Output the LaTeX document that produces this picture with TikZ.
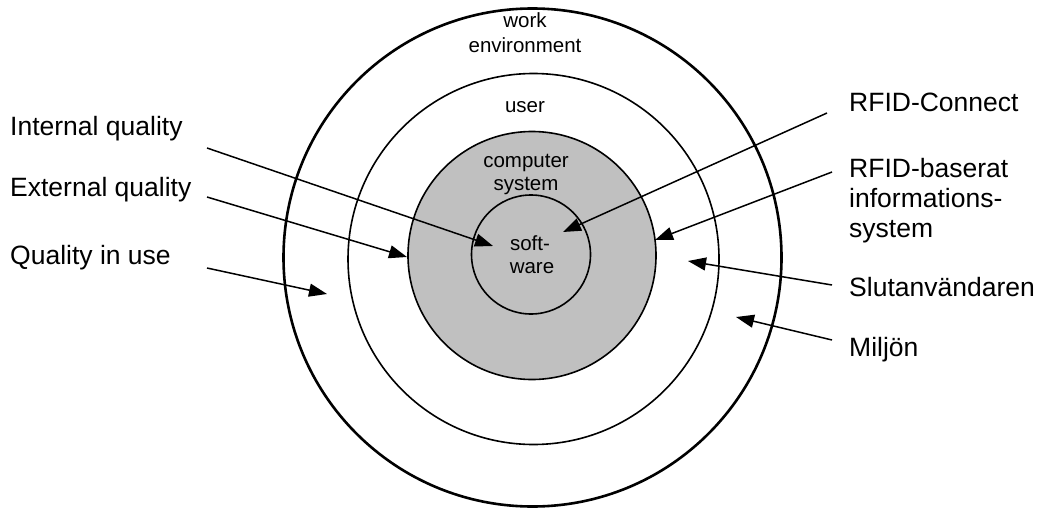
\documentclass[tikz,border=0pt]{standalone}
\usepackage{fontspec}
\setmainfont{Liberation Sans}
\usetikzlibrary{arrows.meta}
\definecolor{coreshade}{RGB}{192,192,192}

\begin{document}
\begin{tikzpicture}[x=1pt,y=-1pt,
  ring/.style={circle, draw, line width=1.6pt, inner sep=0pt},
  ptr/.style={line width=1.5pt, -{Triangle[length=18pt,width=13pt]}},
  biglabel/.style={font=\fontsize{26.5}{30.5}\selectfont, anchor=base west, inner sep=0pt},
  ringlabel/.style={font=\fontsize{20.5}{25}\selectfont, anchor=base, inner sep=0pt}]
\useasboundingbox (0,0) rectangle (1040,508);

% concentric layers
\node[ring, line width=2.6pt, minimum size=498pt] (env) at (532.5,257.5) {};
\node[ring, minimum size=371pt] (usr) at (533.5,259) {};
\node[ring, fill=coreshade, minimum size=248pt] (sys) at (532,255.5) {};
\node[ring, minimum size=119pt] (sw) at (531,254.5) {};

% layer names
\node[ringlabel] (lwork) at (525,28) {work};
\node[ringlabel] (lenv) at (525,53) {environment};
\node[ringlabel] (luser) at (525,113) {user};
\node[ringlabel] (lcomp) at (526,167) {computer};
\node[ringlabel] (lsys) at (526,190) {system};
\node[ringlabel] (lsoft) at (530,250) {soft-};
\node[ringlabel] (lware) at (532,273) {ware};

% quality views (left)
\node[biglabel] (iq) at (10,135.5) {Internal quality};
\node[biglabel] (eq) at (10,196) {External quality};
\node[biglabel] (qu) at (10,264) {Quality in use};

% counterparts (right)
\node[biglabel] (rc) at (849,112) {RFID-Connect};
\node[biglabel] (rb) at (849,177) {RFID-baserat};
\node[biglabel] (ri) at (849,207.5) {informations-};
\node[biglabel] (rs) at (849,237.5) {system};
\node[biglabel] (su) at (849,296) {Slutanvändaren};
\node[biglabel] (mi) at (849,356) {Miljön};

% arrow ends
\coordinate (iqs) at (207,148);  \coordinate (iqe) at (493,246);
\coordinate (eqs) at (207,197);  \coordinate (eqe) at (407,257);
\coordinate (qus) at (207,268);  \coordinate (que) at (327,294);
\coordinate (rcs) at (827,113);  \coordinate (rce) at (563,232);
\coordinate (rbs) at (832,172);  \coordinate (rbe) at (655,240);
\coordinate (sus) at (832,285);  \coordinate (sue) at (688,261);
\coordinate (mis) at (832,340);  \coordinate (mie) at (736,317);

\draw[ptr] (iqs) -- (iqe);
\draw[ptr] (eqs) -- (eqe);
\draw[ptr] (qus) -- (que);
\draw[ptr] (rcs) -- (rce);
\draw[ptr] (rbs) -- (rbe);
\draw[ptr] (sus) -- (sue);
\draw[ptr] (mis) -- (mie);
\end{tikzpicture}
\end{document}
